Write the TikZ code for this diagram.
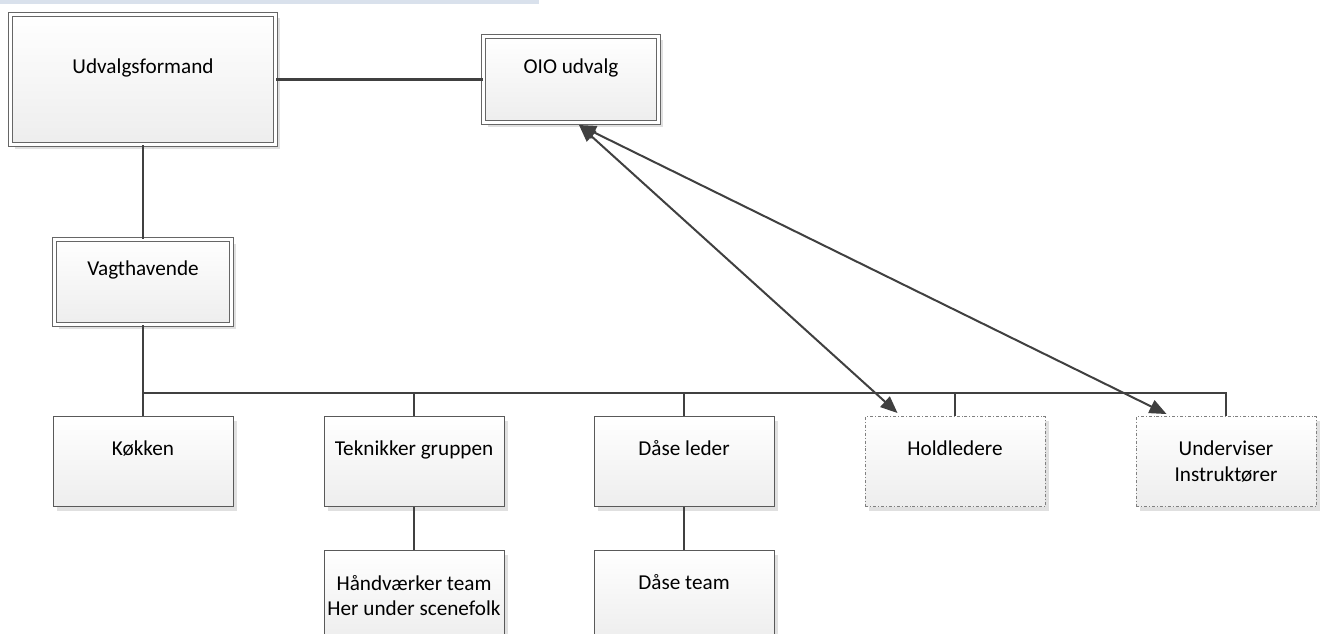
\documentclass[tikz,border=0pt]{standalone}
\usepackage{fontspec}
\setmainfont{Carlito}
\usepackage{xcolor}
\usetikzlibrary{arrows.meta,shadows}
\definecolor{stripcol}{HTML}{D9E1EC}
\newcommand{\lonerow}{\\[-6pt]\strut}

\begin{document}
\begin{tikzpicture}[x=1pt,y=-1pt,
		box/.style={draw=black!65,line width=0.9pt,top color=white,bottom color=black!7,
			minimum width=180pt,minimum height=90pt,inner sep=0pt,align=center,
			font=\fontsize{21.2}{25.5}\selectfont,
			drop shadow={shadow xshift=4pt,shadow yshift=-4pt,fill=black!12,opacity=1}},
		topbox/.style={box,double=white,line width=1pt,double distance=3pt,draw=black!60},
		openbox/.style={box,draw=black!50,dash dot},
		link/.style={draw=black!75,line width=2.2pt},
		both/.style={link,line width=2pt,{Triangle[length=17pt,width=14pt]}-{Triangle[length=17pt,width=14pt]}}]
		\useasboundingbox (0,0) rectangle (1322,634);
		\fill[stripcol] (0,0) rectangle (539,4);
		
		\node[topbox,minimum width=265pt,minimum height=130pt] (uf) at (143,79.5) {Udvalgsformand\lonerow};
		\node[topbox,minimum width=175pt,minimum height=86pt] (oio) at (571,79.5) {OIO udvalg\lonerow};
		\node[topbox,minimum width=177pt,minimum height=85pt] (vh) at (143,282) {Vagthavende\lonerow};
		
		% row under the bus
		\node[box] (kk) at (143,461.5) {Køkken\lonerow};
		\node[box] (tek) at (414,461.5) {Teknikker gruppen\lonerow};
		\node[box] (dl) at (684,461.5) {Dåse leder\lonerow};
		\node[openbox] (hl) at (955,461.5) {Holdledere\lonerow};
		\node[openbox] (ui) at (1226,461.5) {Underviser\\Instruktører};
		
		\node[box] (hv) at (414,595.5) {Håndværker team\\Her under scenefolk};
		\node[box] (dt) at (684,595.5) {Dåse team\lonerow};
		
		\coordinate (bus) at (0,393);
		\draw[link] (uf) -- (oio);
		\draw[link] (uf) -- (vh);
		\draw[link] (vh.south) -- (vh.south |- bus) -| (ui.north);
		\foreach \b in {kk,tek,dl,hl}
			\draw[link] (\b.north) -- (\b.north |- bus);
		\draw[link] (tek) -- (hv);
		\draw[link] (dl) -- (dt);
		
		\coordinate (a0) at ([shift={(8,2)}]oio.south);
		\draw[both] (a0) -- ([shift={(33,-3)}]hl.north west);
		\draw[both] (a0) -- ([shift={(31,-2)}]ui.north west);
	\end{tikzpicture}
\end{document}
